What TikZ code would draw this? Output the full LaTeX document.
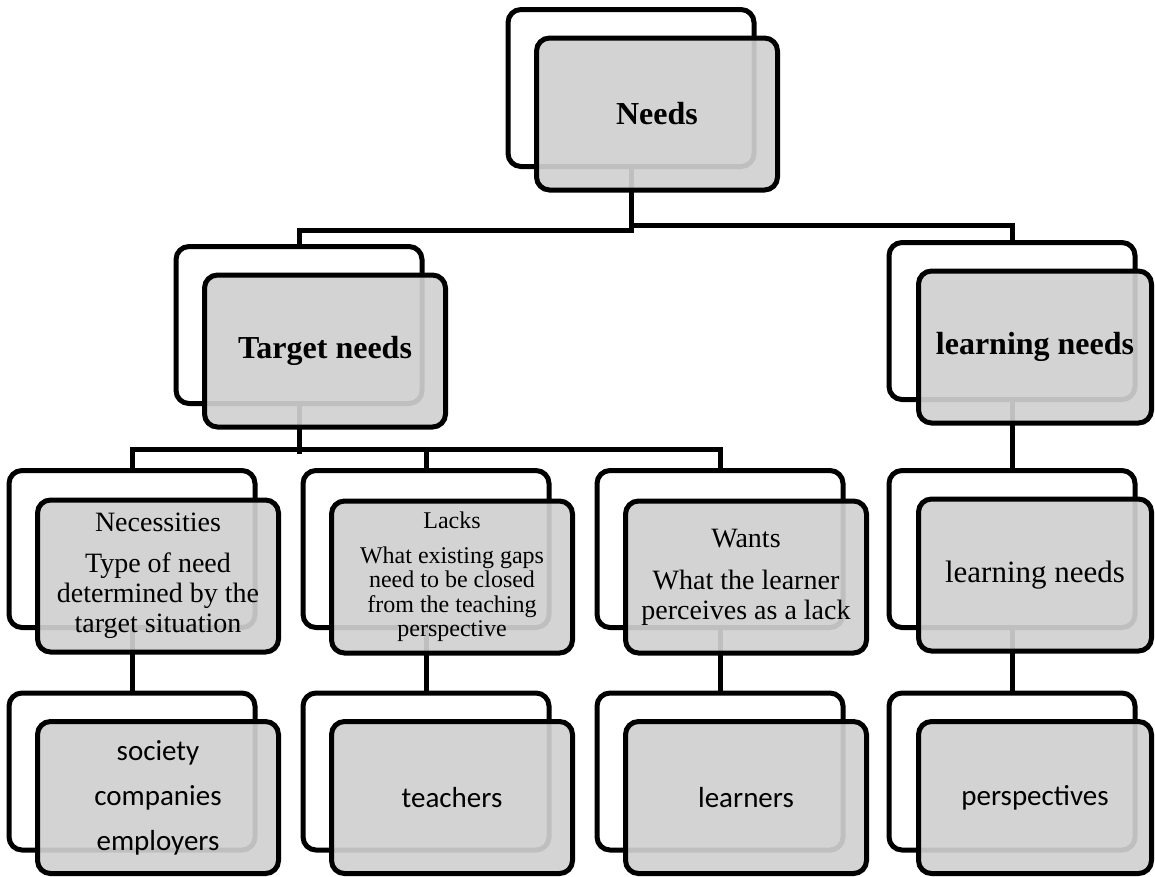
\documentclass[tikz,border=0pt]{standalone}
\usepackage{fontspec}
\setmainfont{Liberation Serif}
\newfontfamily\calibrish{Carlito}
\definecolor{boxgray}{gray}{0.815}
\begin{document}
\begin{tikzpicture}[x=1pt,y=-1pt,
  backbox/.style={draw=black, line width=5pt, rounded corners=13pt, fill=white,
    minimum width=241pt, minimum height=152pt, inner sep=0pt},
  frontbox/.style={draw=black, line width=5pt, rounded corners=13pt, fill=boxgray,
    fill opacity=0.92, text opacity=1, minimum width=241pt, minimum height=152pt,
    align=center, inner sep=2pt},
  narrow/.style={minimum width=233pt},
  link/.style={line width=5pt},
  titletext/.style={font=\fontsize{32}{36}\selectfont\bfseries},
  bodytext/.style={font=\fontsize{28}{30}\selectfont},
  smalltext/.style={font=\fontsize{24}{24.5}\selectfont},
  plaintext/.style={font=\fontsize{31}{36}\selectfont},
  sanstext/.style={font=\calibrish\fontsize{29}{45}\selectfont}
]
\useasboundingbox (0,0) rectangle (1155,876);

% back (outline) boxes, placed first so the connectors can refer to them
\path
  node[backbox] (needsB)    at (631,88)    {}
  node[backbox] (targetB)   at (299,325)   {}
  node[backbox] (learnB)    at (1012,321)  {}
  node[backbox] (necB)      at (132,549)   {}
  node[backbox] (lacksB)    at (426,549)   {}
  node[backbox] (wantsB)    at (720,549)   {}
  node[backbox] (learnTwoB) at (1012,549)  {}
  node[backbox] (socB)      at (132,771.5) {}
  node[backbox] (teachB)    at (426,771.5) {}
  node[backbox] (learnersB) at (720,771.5) {}
  node[backbox] (perspB)    at (1012,771.5){};

% connectors
\draw[link] (needsB.south) -- ++(0,64) -| (targetB.north);
\draw[link] (needsB.south) ++(0,59) -| (learnB.north);
\draw[link] (targetB.south) -- ++(0,50);
\draw[link] (necB.north) -- ++(0,-21) -| (wantsB.north);
\draw[link] (lacksB.north) -- ++(0,-21);
\draw[link] (learnB.south) -- (learnTwoB.north);
\draw[link] (necB.south) -- (socB.north);
\draw[link] (lacksB.south) -- (teachB.north);
\draw[link] (wantsB.south) -- (learnersB.north);
\draw[link] (learnTwoB.south) -- (perspB.north);

% back boxes drawn over the connectors
\foreach \b in {needsB,targetB,learnB,necB,lacksB,wantsB,learnTwoB,socB,teachB,learnersB,perspB}
  \draw[line width=5pt, rounded corners=13pt, fill=white]
    (\b.south west) rectangle (\b.north east);

% front (shaded) boxes with the texts
\node[frontbox, titletext] (needs)  at (657,114) {Needs};
\node[frontbox, titletext] (target) at (325,351) {Target needs};
\node[frontbox, narrow, titletext] (learn) at (1035,347) {learning needs};

\node[frontbox, bodytext] (nec) at (158,576)
  {Necessities\\[11pt]Type of need\\determined by the\\target situation};
\node[frontbox, smalltext] (lacks) at (452,577)
  {Lacks\\[10pt]What existing gaps\\need to be closed\\from the teaching\\perspective};
\node[frontbox, bodytext] (wants) at (746,577)
  {Wants\\[12pt]What the learner\\perceives as a lack};
\node[frontbox, narrow, plaintext] (learnTwo) at (1035,575) {learning needs};

\node[frontbox, sanstext] (soc) at (158,797.5) {society\\companies\\employers};
\node[frontbox, sanstext] (teach) at (452,797.5) {teachers};
\node[frontbox, sanstext] (learners) at (746,797.5) {learners};
\node[frontbox, narrow, sanstext] (persp) at (1035,797.5) {perspectives};
\end{tikzpicture}
\end{document}
